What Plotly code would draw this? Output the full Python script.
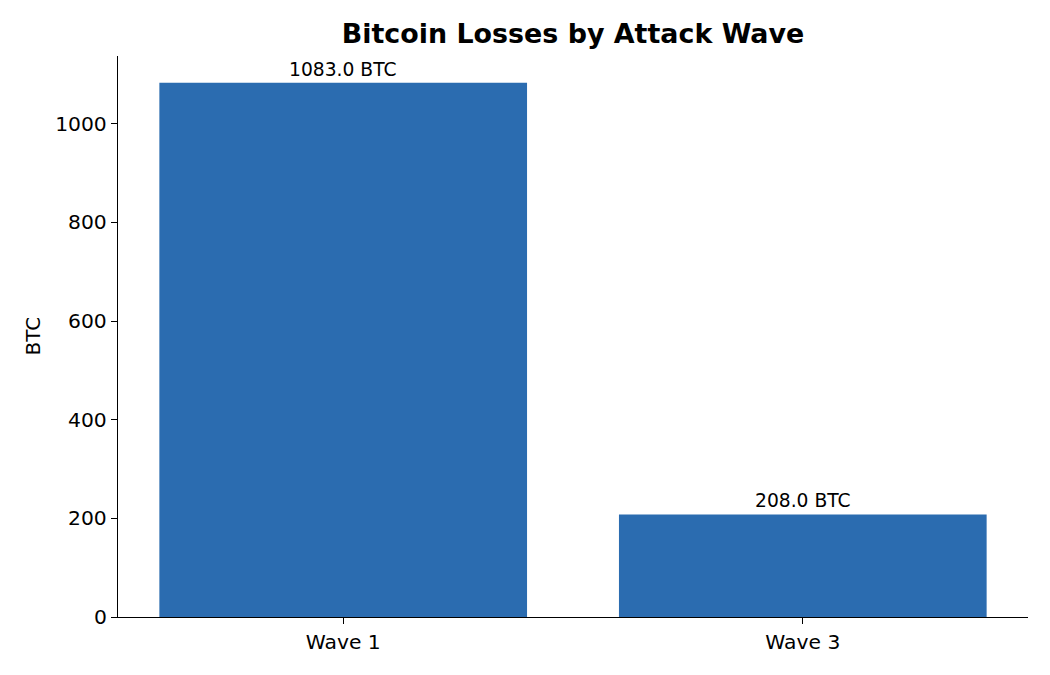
import plotly.graph_objects as go

waves = ["Wave 1", "Wave 3"]
btc_lost = [1083.0, 208.0]
y_ticks = [0, 200, 400, 600, 800, 1000]

FONT = "DejaVu Sans"

fig = go.Figure()
fig.add_trace(go.Bar(
    x=[0, 1],
    y=btc_lost,
    width=0.8,
    marker=dict(color="#2b6cb0", line=dict(width=0)),
    hoverinfo="skip",
))

# value labels above each bar
for i, v in enumerate(btc_lost):
    fig.add_annotation(
        x=i, y=v, text=f"{v:.1f} BTC", showarrow=False,
        yanchor="bottom", yshift=1,
        font=dict(family=FONT, size=18.7, color="black"),
    )

fig.add_annotation(
    xref="paper", yref="paper", x=-0.0945, y=0.5,
    text="BTC", textangle=-90, showarrow=False,
    xanchor="center", yanchor="middle",
    font=dict(family=FONT, size=20, color="black"),
)

# page body adds ~8px offset, so the figure is a bit smaller than the window
fig.update_layout(
    width=1042, height=667,
    margin=dict(l=110, r=22, t=48, b=58),
    paper_bgcolor="white", plot_bgcolor="white",
    showlegend=False,
    title=dict(
        text="<b>Bitcoin Losses by Attack Wave</b>",
        x=(573 - 8) / 1042, xanchor="center",
        y=1 - 26 / 667, yanchor="middle",
        font=dict(family=FONT, size=26.9, color="black"),
    ),
    font=dict(family=FONT, color="black"),
)

fig.update_xaxes(
    range=[-0.49, 1.49],
    tickvals=[0, 1], ticktext=waves,
    showgrid=False, zeroline=False,
    showline=True, linecolor="black", linewidth=1.3,
    ticks="outside", ticklen=6, tickwidth=1.3, tickcolor="black",
    tickfont=dict(family=FONT, size=20.3, color="black"),
)
fig.update_yaxes(
    range=[0, 1137.15],
    tickvals=y_ticks,
    showgrid=False, zeroline=False,
    showline=True, linecolor="black", linewidth=1.3,
    ticks="outside", ticklen=6, tickwidth=1.3, tickcolor="black",
    tickfont=dict(family=FONT, size=20.3, color="black"),
)

fig.write_html("out.html")
